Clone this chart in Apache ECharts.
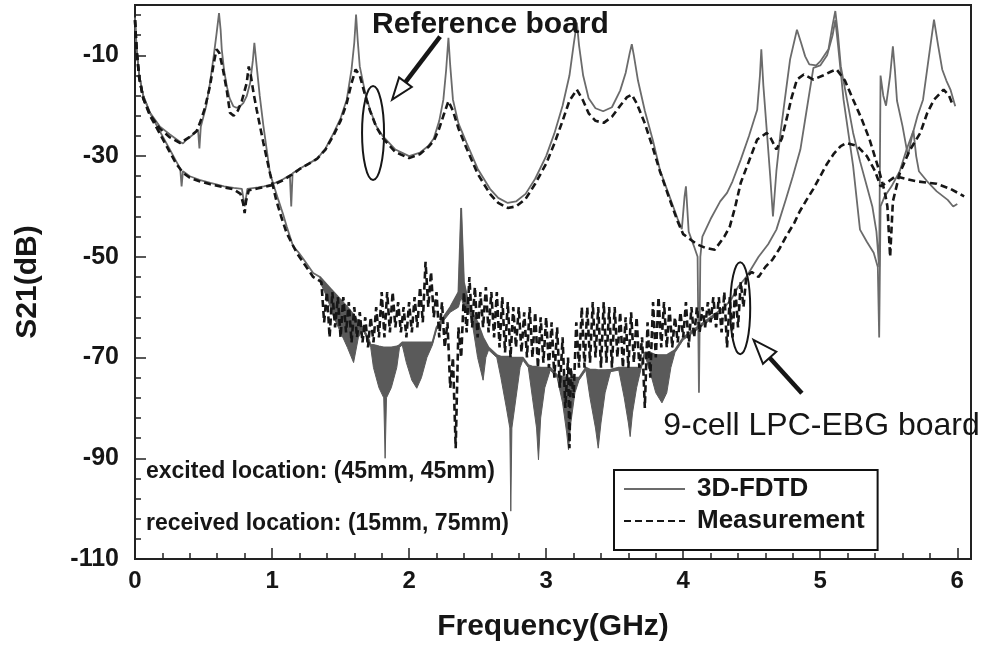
<!DOCTYPE html>
<html>
<head>
<meta charset="utf-8">
<script src="https://cdn.jsdelivr.net/npm/echarts@6/dist/echarts.min.js"></script>
<style>
  html, body { margin: 0; padding: 0; background: #fff; }
  #chart { width: 989px; height: 652px; }
</style>
</head>
<body>
<div id="chart"></div>
<script>
  // S21 (dB) against frequency (GHz)

  // reference board, 3D-FDTD
  var refFdtd = [
    [0, -2.5], [0.012, -8.8], [0.031, -14], [0.06, -18], [0.11, -21.5], [0.15, -23.5], [0.2, -26], [0.25, -28.5],
    [0.3, -31], [0.33, -32.5], [0.34, -36], [0.35, -33], [0.4, -34], [0.47, -34.7], [0.55, -35.3], [0.65, -36],
    [0.72, -36.3], [0.78, -36.5], [0.8, -40], [0.82, -36.5], [0.9, -36.2], [0.94, -36], [1.0, -35.6], [1.08, -34.6],
    [1.13, -33.8], [1.14, -40], [1.15, -33.4], [1.2, -32.5], [1.26, -31.6], [1.33, -30.5], [1.39, -28.5], [1.45, -25.4],
    [1.5, -22.5], [1.545, -18.8], [1.58, -12.8], [1.6, -7.5], [1.613, -1.9], [1.625, -7], [1.64, -12.2], [1.68, -17.5],
    [1.715, -20.8], [1.76, -24], [1.81, -26.1], [1.9, -28.7], [2.0, -30], [2.08, -29.3], [2.14, -28], [2.18, -26.5],
    [2.22, -23], [2.25, -18.8], [2.27, -13], [2.287, -6.5], [2.3, -12], [2.32, -18.8], [2.36, -23.5], [2.42, -27.4],
    [2.5, -32.5], [2.59, -36.5], [2.65, -38.3], [2.72, -39.3], [2.78, -39], [2.85, -37.5], [2.92, -34.5], [3.0, -30],
    [3.06, -25.5], [3.12, -20], [3.17, -14], [3.2, -8], [3.224, -3.5], [3.24, -8], [3.27, -14], [3.31, -18.5],
    [3.36, -20.5], [3.416, -21.1], [3.48, -20.3], [3.54, -17], [3.58, -13.5], [3.61, -9.5], [3.625, -7.8], [3.64, -10],
    [3.67, -15], [3.72, -21], [3.78, -27], [3.83, -32.7], [3.9, -38], [3.96, -42.5], [3.99, -44.5], [4.01, -38],
    [4.02, -36], [4.04, -45], [4.08, -48], [4.105, -50], [4.115, -77], [4.125, -50], [4.14, -46], [4.2, -42.5],
    [4.27, -39], [4.32, -37.3], [4.36, -35], [4.42, -30.7], [4.48, -26], [4.54, -20.8], [4.56, -14], [4.57, -8.8],
    [4.585, -16], [4.61, -25], [4.635, -34], [4.655, -42], [4.68, -33], [4.71, -25.4], [4.75, -17], [4.78, -10.8],
    [4.83, -4.9], [4.86, -7.5], [4.89, -10.2], [4.92, -11.8], [4.97, -12], [5.0, -11.2], [5.06, -8.8], [5.09, -4],
    [5.11, -1.2], [5.13, -6], [5.15, -12.2], [5.2, -19.5], [5.24, -25.4], [5.29, -31], [5.34, -36], [5.38, -40],
    [5.41, -45], [5.43, -52], [5.44, -14], [5.46, -18], [5.48, -20], [5.51, -14], [5.53, -8.2], [5.545, -13],
    [5.56, -19], [5.6, -24], [5.64, -30], [5.67, -26], [5.71, -22], [5.75, -18.8], [5.8, -8.8], [5.83, -2.9],
    [5.86, -8], [5.89, -12.8], [5.92, -15], [5.95, -16.8], [5.985, -20.1]
  ];

  // reference board, measurement
  var refMeas = [
    [0, -3], [0.012, -9], [0.031, -14.5], [0.06, -18.5], [0.11, -22], [0.15, -24], [0.2, -26.5], [0.25, -29],
    [0.3, -31.5], [0.35, -33.3], [0.4, -34.3], [0.47, -35], [0.55, -35.6], [0.65, -36.2], [0.72, -36.6], [0.77, -37.5],
    [0.79, -39.5], [0.8, -41.3], [0.81, -39], [0.83, -36.8], [0.9, -36.4], [1.0, -35.8], [1.08, -34.8], [1.15, -33.6],
    [1.2, -32.6], [1.27, -31.5], [1.33, -30.5], [1.39, -28.7], [1.45, -25.8], [1.5, -23], [1.545, -19.5], [1.58, -15.5],
    [1.61, -12.8], [1.64, -14], [1.68, -18], [1.715, -21], [1.76, -24.2], [1.81, -26.5], [1.9, -29.2], [2.0, -30.4],
    [2.08, -29.6], [2.14, -28.2], [2.18, -27], [2.22, -24.5], [2.25, -22], [2.287, -19.1], [2.32, -21], [2.36, -24.5],
    [2.42, -28.5], [2.5, -33.5], [2.59, -37.5], [2.65, -39.3], [2.72, -40.3], [2.78, -40], [2.85, -38.5], [2.92, -35.5],
    [3.0, -31.5], [3.06, -27.5], [3.12, -23], [3.17, -19], [3.224, -16.8], [3.27, -19], [3.31, -21.5], [3.36, -23],
    [3.42, -23.4], [3.48, -22.2], [3.54, -20], [3.59, -18.3], [3.625, -17.8], [3.66, -19.5], [3.72, -23.5], [3.78, -28.5],
    [3.83, -33], [3.9, -38.5], [3.96, -43], [4.0, -45.5], [4.05, -46.5], [4.1, -47.5], [4.16, -48.2], [4.23, -48.6],
    [4.3, -46], [4.34, -44], [4.38, -40], [4.42, -35.3], [4.48, -31], [4.54, -26.7], [4.61, -25.4], [4.64, -26.5],
    [4.68, -28.7], [4.72, -26.5], [4.76, -22], [4.79, -18.5], [4.83, -14.8], [4.88, -13.8], [4.95, -14.8], [5.02, -14],
    [5.08, -13.2], [5.12, -12.8], [5.18, -15], [5.24, -18.8], [5.3, -22.5], [5.36, -26.7], [5.42, -32], [5.47, -37],
    [5.49, -40], [5.51, -50], [5.53, -39], [5.58, -33.4], [5.65, -29], [5.73, -25.4], [5.78, -21.5], [5.83, -18.8],
    [5.9, -16.8], [5.94, -18], [5.97, -20.1]
  ];

  // 9-cell LPC-EBG board, 3D-FDTD below and above the stop band
  var ebgFdtdLow = [
    [0, -2.5], [0.012, -8.8], [0.031, -14], [0.06, -18], [0.11, -21.4], [0.18, -24.1], [0.255, -25.7], [0.33, -27.2],
    [0.35, -27.5], [0.377, -26.7], [0.42, -25.8], [0.46, -24.8], [0.47, -28.5], [0.48, -24.2], [0.52, -20], [0.547, -15.5],
    [0.575, -10], [0.596, -5.5], [0.613, -1.6], [0.625, -5], [0.633, -8.8], [0.65, -13], [0.67, -16.1], [0.69, -18.5],
    [0.717, -20.1], [0.74, -20.4], [0.766, -20.1], [0.79, -19.5], [0.815, -18.1], [0.84, -15.5], [0.86, -11], [0.871, -7.5],
    [0.88, -10], [0.888, -12.2], [0.91, -18], [0.937, -24], [0.96, -28.5], [0.985, -33.4], [1.02, -36.5], [1.046, -38.7],
    [1.08, -41.5], [1.107, -44], [1.155, -48], [1.19, -49], [1.23, -50.5], [1.3, -53.2]
  ];
  var ebgFdtdHigh = [
    [4.3, -60], [4.35, -58.5], [4.4, -56], [4.46, -54], [4.55, -50], [4.62, -47.5], [4.68, -44.6], [4.75, -38.5],
    [4.8, -34], [4.855, -28.7], [4.9, -21], [4.95, -12.5], [5.0, -12], [5.05, -10], [5.09, -6], [5.11, -3],
    [5.13, -8], [5.17, -18.8], [5.24, -32], [5.29, -44.6], [5.34, -47], [5.39, -49.2], [5.42, -52], [5.43, -66],
    [5.44, -40], [5.47, -38], [5.52, -36], [5.58, -33], [5.63, -28.7], [5.68, -25], [5.7, -30], [5.72, -33],
    [5.78, -35], [5.85, -37], [5.93, -38.7], [5.97, -40], [6.0, -39.5]
  ];

  // 9-cell LPC-EBG board, 3D-FDTD in the stop band: fast ripple seen as a filled band
  var bandF = [
    1.35, 1.4, 1.45, 1.5, 1.55, 1.595, 1.63, 1.66, 1.7, 1.72, 1.74, 1.78, 1.815, 1.825, 1.835, 1.87,
    1.91, 1.93, 1.95, 1.98, 2.02, 2.056, 2.09, 2.13, 2.17, 2.2, 2.3, 2.36, 2.38, 2.4, 2.44, 2.46,
    2.5, 2.54, 2.56, 2.58, 2.64, 2.67, 2.71, 2.735, 2.742, 2.75, 2.78, 2.81, 2.83, 2.87, 2.9, 2.93,
    2.944, 2.96, 2.99, 3.03, 3.08, 3.12, 3.15, 3.163, 3.18, 3.21, 3.24, 3.29, 3.32, 3.36, 3.38, 3.4,
    3.43, 3.47, 3.53, 3.57, 3.6, 3.613, 3.63, 3.66, 3.69, 3.72, 3.76, 3.8, 3.845, 3.88, 3.91, 3.94,
    4.0, 4.1, 4.2, 4.25
  ];
  var bandTop = [
    -54, -55.5, -57, -58.5, -60, -61.5, -63, -64, -66, -67.5, -67.5, -67.8, -68, -68, -68, -68,
    -67.8, -67.5, -67, -67, -67, -67, -67, -67, -67, -64, -60, -57, -40.3, -55, -60, -61,
    -63, -66, -67, -68, -69.5, -69.8, -69.8, -69.8, -70, -70, -70, -70, -70, -71.5, -71.8, -71.8,
    -72, -72, -72, -72, -73.5, -73.8, -74, -74, -74, -74, -74, -72, -72.4, -72.4, -72.5, -72.5,
    -72.5, -72.4, -72, -72, -72, -72, -72, -72, -72, -69, -69, -69.5, -69.5, -69.5, -69, -68.5,
    -66, -64, -62, -61
  ];
  var bandBottom = [
    -55, -58, -62, -65, -68, -71, -66, -64.5, -66.5, -68, -72, -76, -78, -90, -78, -76,
    -72, -68, -67.5, -71, -74.5, -76.1, -74, -70, -67.5, -64.5, -61, -60, -58, -60, -61, -63,
    -70, -74.5, -70, -68.5, -70, -74, -80, -84, -100.5, -84, -78, -72, -70.5, -72, -78, -84,
    -90.3, -82, -76, -72.5, -74, -79, -85, -88.3, -83, -77, -74.5, -72.5, -78, -84, -88, -83,
    -77, -72.8, -72.5, -78, -83, -85.7, -81, -76, -72.5, -69.5, -73, -77, -79, -77, -72, -69,
    -66.5, -64.5, -62.5, -61.5
  ];

  // 9-cell LPC-EBG board, measurement
  var ebgMeasLow = [
    [0, -3], [0.012, -9], [0.031, -14.5], [0.06, -18.5], [0.11, -21.8], [0.18, -24.5], [0.255, -26.3], [0.33, -27.4],
    [0.4, -26.2], [0.45, -25], [0.474, -23.4], [0.51, -20.5], [0.547, -16.1], [0.575, -11.5], [0.595, -8.8], [0.615, -9.5],
    [0.64, -12.5], [0.67, -17], [0.693, -21.4], [0.72, -22], [0.75, -21], [0.78, -19], [0.815, -15.5], [0.83, -12.2],
    [0.845, -14], [0.865, -17.5], [0.888, -20.8], [0.937, -27.4], [0.985, -33.4], [1.03, -38.7], [1.07, -42.3], [1.107, -45.3],
    [1.18, -49.2], [1.23, -51.2], [1.3, -54]
  ];
  var ebgMeasNoise = [
    [1.36, -55], [1.38, -63], [1.4, -57], [1.42, -66], [1.44, -57], [1.46, -64], [1.48, -58], [1.5, -66],
    [1.52, -58], [1.54, -65], [1.56, -59], [1.58, -67], [1.6, -60], [1.62, -66], [1.64, -61], [1.66, -67],
    [1.68, -62], [1.7, -68], [1.72, -62], [1.74, -67], [1.76, -60], [1.78, -66], [1.8, -57], [1.82, -66],
    [1.84, -57], [1.86, -65], [1.88, -57], [1.9, -64], [1.92, -59], [1.94, -65], [1.96, -60], [1.98, -66],
    [2.0, -59], [2.02, -65], [2.04, -58], [2.06, -64], [2.08, -56], [2.1, -63], [2.12, -51], [2.14, -60],
    [2.16, -53], [2.18, -62], [2.2, -57], [2.22, -66], [2.24, -59], [2.26, -68], [2.28, -63], [2.3, -76],
    [2.32, -70], [2.34, -88], [2.36, -64], [2.38, -70], [2.4, -57], [2.42, -65], [2.44, -54], [2.46, -64],
    [2.48, -56], [2.5, -66], [2.52, -57], [2.54, -64], [2.56, -56], [2.58, -65], [2.6, -57], [2.62, -66],
    [2.64, -57], [2.66, -68], [2.68, -58], [2.7, -69], [2.72, -59], [2.74, -70], [2.76, -60], [2.78, -68],
    [2.8, -60], [2.82, -69], [2.84, -61], [2.86, -70], [2.88, -60], [2.9, -70], [2.92, -61], [2.94, -72],
    [2.96, -62], [2.98, -71], [3.0, -62], [3.02, -72], [3.04, -63], [3.06, -74], [3.08, -64], [3.1, -76],
    [3.12, -66], [3.14, -80], [3.16, -70], [3.17, -88], [3.18, -72], [3.2, -78], [3.22, -63], [3.24, -72],
    [3.26, -60], [3.28, -72], [3.3, -60], [3.32, -71], [3.34, -59], [3.36, -70], [3.38, -60], [3.4, -72],
    [3.42, -59], [3.44, -71], [3.46, -60], [3.48, -72], [3.5, -60], [3.52, -70], [3.54, -61], [3.56, -72],
    [3.58, -62], [3.6, -72], [3.62, -61], [3.64, -71], [3.66, -62], [3.68, -72], [3.7, -66], [3.72, -80],
    [3.74, -63], [3.76, -74], [3.78, -59], [3.8, -70], [3.82, -58], [3.84, -68], [3.86, -59], [3.88, -68],
    [3.9, -60], [3.92, -68], [3.94, -62], [3.96, -67], [3.98, -61], [4.0, -66], [4.02, -59], [4.04, -68],
    [4.06, -60], [4.08, -66], [4.1, -60], [4.12, -65], [4.14, -60], [4.16, -64], [4.18, -59], [4.2, -63],
    [4.22, -58], [4.24, -64], [4.26, -58], [4.28, -65], [4.3, -57], [4.32, -68], [4.34, -58], [4.36, -66],
    [4.38, -56], [4.4, -64], [4.42, -55], [4.44, -60], [4.46, -54]
  ];
  var ebgMeasHigh = [
    [4.5, -53], [4.55, -54], [4.6, -52], [4.65, -50.6], [4.7, -48.5], [4.75, -46], [4.81, -43.3], [4.85, -41],
    [4.9, -38.7], [4.95, -36.5], [5.0, -34], [5.05, -31.5], [5.1, -29.5], [5.15, -28], [5.19, -27.4], [5.27, -28],
    [5.34, -30], [5.4, -33], [5.44, -36], [5.5, -35], [5.55, -34], [5.62, -34.5], [5.7, -35], [5.85, -35.5],
    [5.95, -36.5], [6.05, -38]
  ];

  // annotation anchors, in (GHz, dB)
  var refNote = { text: 'Reference board', at: [1.73, -3.9] };
  var ebgNote = { text: '9-cell LPC-EBG board', at: [3.854, -83.7] };
  var locNotes = [
    { text: 'excited location: (45mm, 45mm)', at: [0.08, -92.6] },
    { text: 'received location: (15mm, 75mm)', at: [0.08, -103] }
  ];
  var refEllipse = { at: [1.737, -25.4], rx: 11, ry: 47 };
  var ebgEllipse = { at: [4.416, -60.2], rx: 10, ry: 46 };
  var refArrow = { from: [2.226, -6.3], to: [1.876, -18.8] };
  var ebgArrow = { from: [4.866, -77.1], to: [4.513, -66.5] };

  var font = '"Liberation Sans", Arial, Helvetica, sans-serif';
  var ink = '#161616';
  var fdtdColor = '#6b6b6b';
  var bandColor = '#5a5a5a';

  var ebgFdtd = ebgFdtdLow
    .concat(bandF.map(function (f, i) { return [f, bandTop[i]]; }))
    .concat(ebgFdtdHigh);
  var ebgMeas = ebgMeasLow.concat(ebgMeasNoise).concat(ebgMeasHigh);

  var chart = echarts.init(document.getElementById('chart'));

  var fdtdLine = { color: fdtdColor, width: 1.8 };
  var measLine = { color: ink, width: 2.6, type: [7, 4] };

  chart.setOption({
    animation: false,
    backgroundColor: '#fff',
    grid: {
      left: 135, right: 18, top: 5, bottom: 93,
      show: true, borderColor: '#222', borderWidth: 2,
      outerBoundsMode: 'none', containLabel: false
    },
    legend: {
      data: ['3D-FDTD', 'Measurement'],
      orient: 'vertical',
      left: 614, top: 470,
      itemWidth: 61, itemHeight: 14, itemGap: 6,
      padding: [6, 13, 16, 9],
      borderColor: '#111', borderWidth: 2, borderRadius: 0,
      backgroundColor: '#fff',
      selectedMode: false,
      itemStyle: { opacity: 0 },
      textStyle: { fontFamily: font, fontSize: 26, fontWeight: 'bold', color: ink, lineHeight: 26, padding: [0, 0, 0, 7] }
    },
    xAxis: {
      type: 'value',
      min: 0, max: 6.1, interval: 1,
      name: 'Frequency(GHz)',
      nameLocation: 'middle', nameGap: 53,
      nameTextStyle: { fontFamily: font, fontSize: 30, fontWeight: 'bold', color: ink },
      axisLine: { show: true, onZero: false, lineStyle: { color: '#222', width: 2 } },
      axisTick: { show: true, inside: true, length: 11, lineStyle: { color: '#222', width: 1.5 } },
      minorTick: { show: true, splitNumber: 5, length: 6, lineStyle: { color: '#222', width: 1.5 } },
      splitLine: { show: false },
      minorSplitLine: { show: false },
      axisLabel: {
        margin: 10, fontFamily: font, fontSize: 24, fontWeight: 'bold', color: ink,
        formatter: function (v) { return v > 6.05 ? '' : String(v); }
      }
    },
    yAxis: {
      type: 'value',
      min: -110, max: 0, interval: 20,
      name: 'S21(dB)',
      nameLocation: 'middle', nameRotate: 90, nameGap: 92,
      nameTextStyle: { fontFamily: font, fontSize: 30, fontWeight: 'bold', color: ink },
      axisLine: { show: true, onZero: false, lineStyle: { color: '#222', width: 2 } },
      axisTick: { show: true, inside: true, length: 11, lineStyle: { color: '#222', width: 1.5 } },
      minorTick: { show: true, splitNumber: 5, length: 6, lineStyle: { color: '#222', width: 1.5 } },
      splitLine: { show: false },
      minorSplitLine: { show: false },
      axisLabel: {
        margin: 16, fontFamily: font, fontSize: 25, fontWeight: 'bold', color: ink,
        formatter: function (v) { return v === 0 ? '' : String(v); }
      }
    },
    series: [
      {
        name: '3D-FDTD', type: 'line', data: ebgFdtd,
        symbol: 'none', showSymbol: false, lineStyle: fdtdLine, itemStyle: { color: fdtdColor }, z: 2
      },
      {
        name: '3D-FDTD', type: 'line', data: refFdtd,
        symbol: 'none', showSymbol: false, lineStyle: fdtdLine, itemStyle: { color: fdtdColor }, z: 2
      },
      {
        name: 'stopband ripple', type: 'custom', z: 3, clip: true,
        data: bandF.map(function (f, i) { return [f, bandTop[i], bandBottom[i]]; }),
        renderItem: function (params, api) {
          if (params.dataIndex !== 0) return null;
          var pts = [];
          var i;
          for (i = 0; i < bandF.length; i++) pts.push(api.coord([bandF[i], bandTop[i]]));
          for (i = bandF.length - 1; i >= 0; i--) pts.push(api.coord([bandF[i], bandBottom[i]]));
          return {
            type: 'polygon',
            shape: { points: pts },
            style: { fill: bandColor, stroke: bandColor, lineWidth: 1 }
          };
        }
      },
      {
        name: 'Measurement', type: 'line', data: ebgMeas,
        symbol: 'none', showSymbol: false, lineStyle: measLine, itemStyle: { color: ink }, z: 4
      },
      {
        name: 'Measurement', type: 'line', data: refMeas,
        symbol: 'none', showSymbol: false, lineStyle: measLine, itemStyle: { color: ink }, z: 4
      }
    ]
  });

  // annotations: positioned from data coordinates
  function px(p) { return chart.convertToPixel({ gridIndex: 0 }, p); }

  function arrow(a, headLen, headHalf) {
    var s = px(a.from), t = px(a.to);
    var dx = t[0] - s[0], dy = t[1] - s[1];
    var len = Math.sqrt(dx * dx + dy * dy);
    var ux = dx / len, uy = dy / len;
    var bx = t[0] - ux * headLen, by = t[1] - uy * headLen;
    return [
      { type: 'line', z: 100, shape: { x1: s[0], y1: s[1], x2: bx, y2: by }, style: { stroke: ink, lineWidth: 4.5 } },
      {
        type: 'polygon', z: 101,
        shape: { points: [t, [bx - uy * headHalf, by + ux * headHalf], [bx + uy * headHalf, by - ux * headHalf]] },
        style: { fill: '#fff', stroke: ink, lineWidth: 2 }
      }
    ];
  }

  function ellipse(e) {
    var c = px(e.at);
    return { type: 'ellipse', z: 100, shape: { cx: c[0], cy: c[1], rx: e.rx, ry: e.ry }, style: { fill: null, stroke: ink, lineWidth: 2 } };
  }

  function label(n, size, weight) {
    var p = px(n.at);
    return {
      type: 'text', z: 102, x: p[0], y: p[1],
      style: {
        text: n.text, fill: ink, font: weight + ' ' + size + 'px ' + font,
        textAlign: 'left', textVerticalAlign: 'middle', verticalAlign: 'middle'
      }
    };
  }

  var graphics = [
    ellipse(refEllipse), ellipse(ebgEllipse),
    label(refNote, 30, 'bold'), label(ebgNote, 32, 'normal'),
    label(locNotes[0], 23, 'bold'), label(locNotes[1], 23, 'bold')
  ].concat(arrow(refArrow, 22, 8)).concat(arrow(ebgArrow, 24, 9));

  chart.setOption({ graphic: graphics });
</script>
</body>
</html>
